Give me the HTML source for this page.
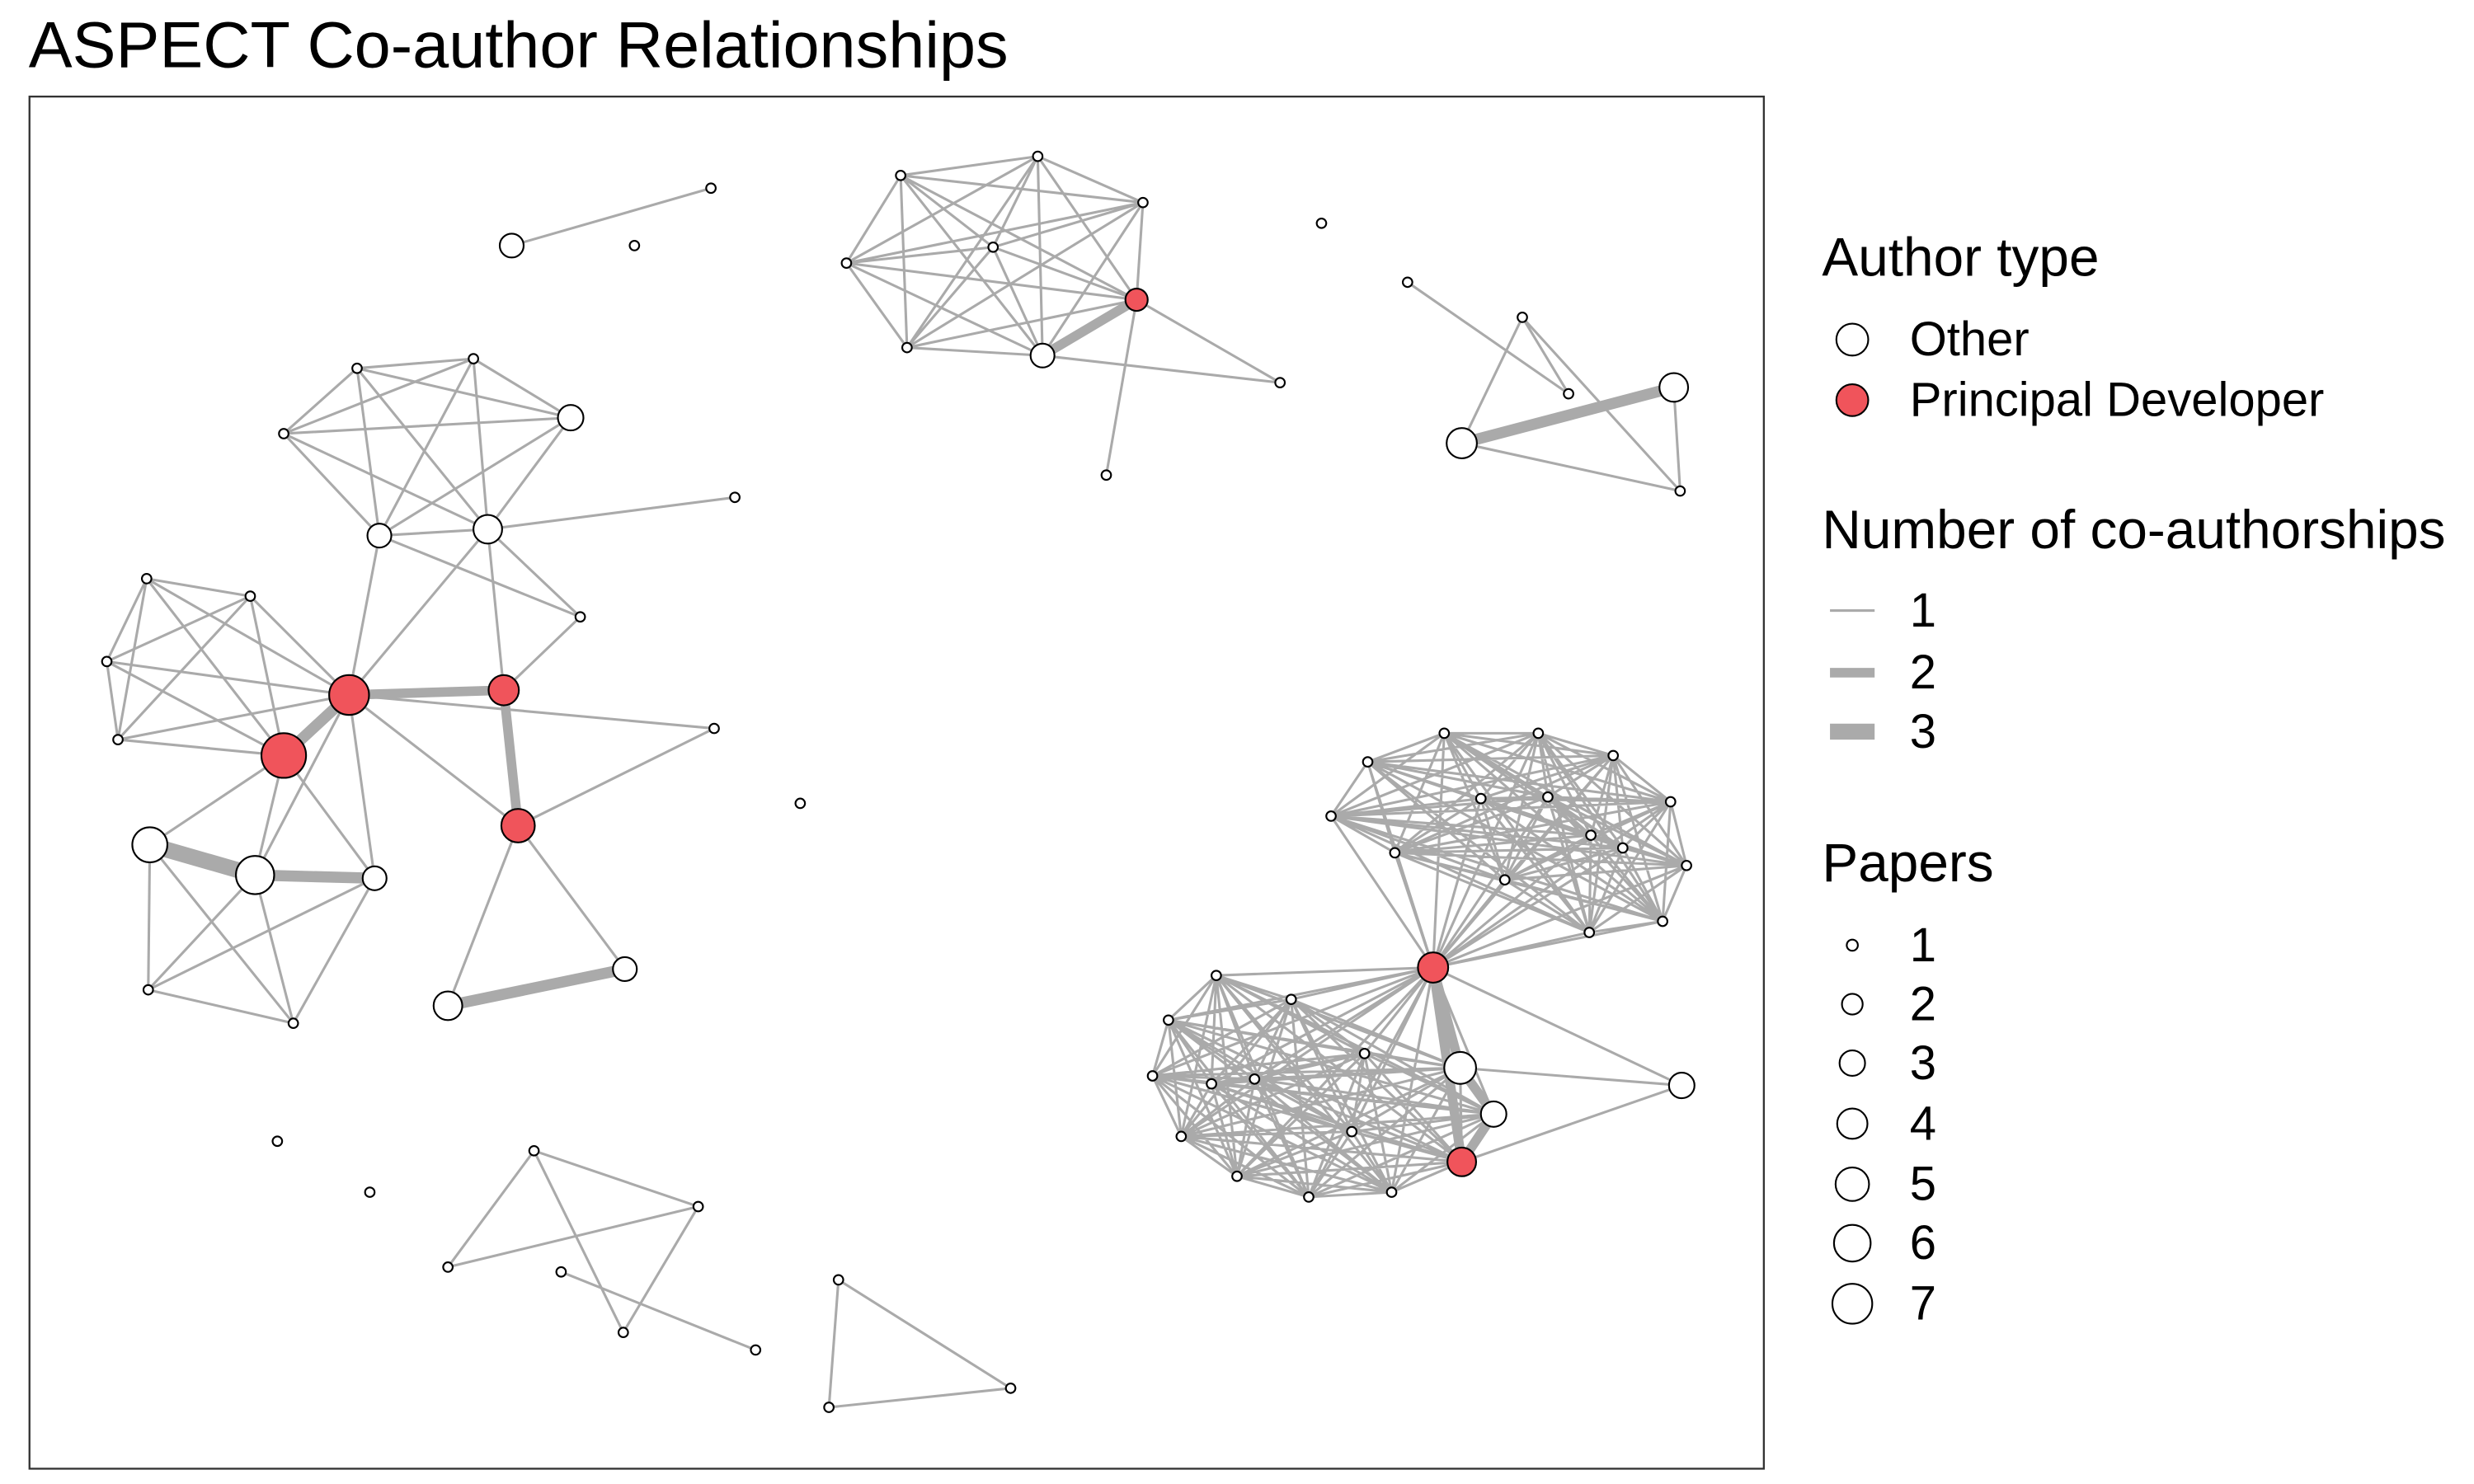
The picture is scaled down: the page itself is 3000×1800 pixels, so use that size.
<!DOCTYPE html>
<html><head><meta charset="utf-8"><style>
html,body{margin:0;padding:0;background:#fff;}
svg{display:block;}
text{font-family:"Liberation Sans",Arial,sans-serif;fill:#000;}
</style></head><body>
<svg width="3000" height="1800" viewBox="0 0 1552 931" xmlns="http://www.w3.org/2000/svg">
<rect width="1552" height="931" fill="#fff"/>
<text x="18" y="42" font-size="41">ASPECT Co-author Relationships</text>
<rect x="18.5" y="60.5" width="1088" height="861" fill="none" stroke="#333" stroke-width="1.2"/>

<g stroke="#aaa" stroke-width="1.6" fill="none" stroke-linejoin="round">
<path d="M565 110L651 98M565 110L717 127M565 110L531 165M565 110L623 155M565 110L713 188M565 110L569 218M565 110L654 223
M651 98L717 127M651 98L531 165M651 98L623 155M651 98L713 188M651 98L569 218M651 98L654 223
M717 127L531 165M717 127L623 155M717 127L713 188M717 127L569 218M717 127L654 223
M531 165L623 155M531 165L713 188M531 165L569 218M531 165L654 223
M623 155L713 188M623 155L569 218M623 155L654 223
M713 188L569 218M569 218L654 223
M713 188L803 240M654 223L803 240M713 188L694 298
M321 154L446 118"/>
<path d="M654 223L713 188" stroke-width="6"/>
<path d="M883 177L984 247M955 199L917 278M955 199L1054 308M955 199L984 247M917 278L1054 308M1050 243L1054 308"/>
<path d="M917 278L1050 243" stroke-width="7"/>
<path d="M224 231L297 225M224 231L178 272M224 231L358 262M224 231L238 336M224 231L306 332
M297 225L178 272M297 225L358 262M297 225L238 336M297 225L306 332
M178 272L358 262M178 272L238 336M178 272L306 332M358 262L238 336M358 262L306 332M238 336L306 332
M306 332L461 312M238 336L219 436M306 332L219 436M238 336L364 387M306 332L364 387M364 387L316 433M306 332L316 433
M219 436L325 518M325 518L448 457M219 436L448 457M325 518L281 631M325 518L392 608
M92 363L157 374M92 363L67 415M92 363L74 464M157 374L67 415M157 374L74 464M67 415L74 464
M92 363L178 474M157 374L178 474M67 415L178 474M74 464L178 474
M92 363L219 436M157 374L219 436M67 415L219 436M74 464L219 436
M178 474L94 530M178 474L160 549M178 474L235 551M219 436L235 551M219 436L160 549
M94 530L93 621M94 530L184 642M235 551L93 621M235 551L184 642M93 621L184 642M160 549L93 621M160 549L184 642"/>
<path d="M219 436L316 433M316 433L325 518" stroke-width="6"/>
<path d="M178 474L219 436M281 631L392 608" stroke-width="7"/>
<path d="M94 530L160 549" stroke-width="10"/>
<path d="M160 549L235 551" stroke-width="7"/>
<path d="M335 722L281 795M335 722L391 836M335 722L438 757M438 757L281 795M438 757L391 836M352 798L474 847
M526 803L520 883L634 871Z"/>
<path d="M835 512L858 478L906 460L965 460L1012 474L1048 503L1058 543L1043 578L997 585L944 552L875 535L929 501L971 500L998 524L1018 532Z
M835 512L906 460L1012 474L1058 543L997 585L875 535L971 500L1018 532L858 478L965 460L1048 503L1043 578L944 552L929 501L998 524Z
M835 512L1012 474L997 585L971 500L858 478L1048 503L944 552L998 524L906 460L1058 543L875 535L1018 532L965 460L1043 578L929 501Z
M835 512L1043 578L1018 532L1058 543L998 524L1048 503L971 500L1012 474L929 501L965 460L875 535L906 460L944 552L858 478L997 585Z
M835 512L965 460L1058 543L944 552L971 500Z M858 478L1012 474L1043 578L875 535L998 524Z M906 460L1048 503L997 585L929 501L1018 532Z
M835 512L1048 503L875 535Z M858 478L1058 543L929 501Z M906 460L1043 578L971 500Z M965 460L997 585L998 524Z M1012 474L944 552L1018 532Z
M835 512L1058 543L971 500L965 460L944 552Z M858 478L1043 578L998 524L1012 474L875 535Z M906 460L997 585L1018 532L1048 503L929 501Z
M899 607L835 512M899 607L858 478M899 607L906 460M899 607L965 460M899 607L1012 474M899 607L1048 503M899 607L1058 543M899 607L1043 578
M899 607L997 585M899 607L944 552M899 607L875 535M899 607L929 501M899 607L971 500M899 607L998 524M899 607L1018 532"/>
<path d="M763 612L810 627L856 661L916 670L937 699L917 729L873 748L821 751L776 738L741 713L723 675L733 640L787 677L760 680L848 710Z
M763 612L856 661L937 699L873 748L776 738L723 675L787 677L848 710L810 627L916 670L917 729L821 751L741 713L733 640L760 680Z
M763 612L937 699L776 738L787 677L810 627L917 729L741 713L760 680L856 661L873 748L723 675L848 710L916 670L821 751L733 640Z
M763 612L821 751L848 710L873 748L760 680L917 729L787 677L937 699L733 640L916 670L723 675L856 661L741 713L810 627L776 738Z
M763 612L916 670L873 748L741 713L787 677Z M810 627L937 699L821 751L723 675L760 680Z M856 661L917 729L776 738L733 640L848 710Z
M763 612L917 729L723 675Z M810 627L873 748L733 640Z M856 661L821 751L787 677Z M916 670L776 738L760 680Z M937 699L741 713L848 710Z
M763 612L873 748L787 677L916 670L741 713Z M810 627L821 751L760 680L937 699L723 675Z M856 661L776 738L848 710L917 729L733 640Z
M899 607L763 612M899 607L810 627M899 607L856 661M899 607L873 748M899 607L821 751M899 607L776 738M899 607L741 713M899 607L723 675
M899 607L733 640M899 607L787 677M899 607L760 680M899 607L848 710M899 607L937 699
M1055 681L899 607M1055 681L916 670M1055 681L917 729"/>
<path d="M899 607L916 670L937 699L917 729M899 607L917 729" stroke-width="6"/>
</g>

<g stroke="#000" stroke-width="1.1" fill="#fff">
<circle cx="565" cy="110" r="3"/><circle cx="651" cy="98" r="3"/><circle cx="717" cy="127" r="3"/><circle cx="531" cy="165" r="3"/>
<circle cx="623" cy="155" r="3"/><circle cx="569" cy="218" r="3"/><circle cx="654" cy="223" r="7.5"/><circle cx="803" cy="240" r="3"/><circle cx="694" cy="298" r="3"/>
<circle cx="321" cy="154" r="7.5"/><circle cx="446" cy="118" r="3"/><circle cx="398" cy="154" r="3"/><circle cx="829" cy="140" r="3"/>
<circle cx="174" cy="716" r="3"/><circle cx="232" cy="748" r="3"/><circle cx="502" cy="504" r="3"/>
<circle cx="883" cy="177" r="3"/><circle cx="955" cy="199" r="3"/><circle cx="984" cy="247" r="3"/><circle cx="1050" cy="243" r="9"/><circle cx="917" cy="278" r="9.5"/><circle cx="1054" cy="308" r="3"/>
<circle cx="224" cy="231" r="3"/><circle cx="297" cy="225" r="3"/><circle cx="178" cy="272" r="3"/><circle cx="358" cy="262" r="8"/>
<circle cx="238" cy="336" r="7.5"/><circle cx="306" cy="332" r="9"/><circle cx="461" cy="312" r="3"/><circle cx="364" cy="387" r="3"/><circle cx="448" cy="457" r="3"/>
<circle cx="92" cy="363" r="3"/><circle cx="157" cy="374" r="3"/><circle cx="67" cy="415" r="3"/><circle cx="74" cy="464" r="3"/>
<circle cx="94" cy="530" r="11"/><circle cx="160" cy="549" r="12"/><circle cx="235" cy="551" r="7.5"/><circle cx="93" cy="621" r="3"/><circle cx="184" cy="642" r="3"/>
<circle cx="281" cy="631" r="9"/><circle cx="392" cy="608" r="7.5"/>
<circle cx="335" cy="722" r="3"/><circle cx="438" cy="757" r="3"/><circle cx="281" cy="795" r="3"/><circle cx="391" cy="836" r="3"/><circle cx="352" cy="798" r="3"/><circle cx="474" cy="847" r="3"/>
<circle cx="526" cy="803" r="3"/><circle cx="520" cy="883" r="3"/><circle cx="634" cy="871" r="3"/>
<circle cx="835" cy="512" r="3"/><circle cx="858" cy="478" r="3"/><circle cx="906" cy="460" r="3"/><circle cx="965" cy="460" r="3"/><circle cx="1012" cy="474" r="3"/>
<circle cx="1048" cy="503" r="3"/><circle cx="1058" cy="543" r="3"/><circle cx="1043" cy="578" r="3"/><circle cx="997" cy="585" r="3"/><circle cx="944" cy="552" r="3"/>
<circle cx="875" cy="535" r="3"/><circle cx="929" cy="501" r="3"/><circle cx="971" cy="500" r="3"/><circle cx="998" cy="524" r="3"/><circle cx="1018" cy="532" r="3"/>
<circle cx="763" cy="612" r="3"/><circle cx="810" cy="627" r="3"/><circle cx="856" cy="661" r="3"/><circle cx="873" cy="748" r="3"/><circle cx="821" cy="751" r="3"/>
<circle cx="776" cy="738" r="3"/><circle cx="741" cy="713" r="3"/><circle cx="723" cy="675" r="3"/><circle cx="733" cy="640" r="3"/><circle cx="787" cy="677" r="3"/>
<circle cx="760" cy="680" r="3"/><circle cx="848" cy="710" r="3"/>
<circle cx="916" cy="670" r="10"/><circle cx="937" cy="699" r="8"/><circle cx="1055" cy="681" r="8"/>
</g>
<g stroke="#000" stroke-width="1.1" fill="#f0545b">
<circle cx="713" cy="188" r="7"/><circle cx="219" cy="436" r="12.5"/><circle cx="316" cy="433" r="9.5"/><circle cx="325" cy="518" r="10.5"/>
<circle cx="178" cy="474" r="14"/><circle cx="899" cy="607" r="9.5"/><circle cx="917" cy="729" r="9"/>
</g>

<text x="1143" y="173" font-size="34">Author type</text>
<circle cx="1162" cy="213" r="10" fill="#fff" stroke="#000" stroke-width="1.1"/>
<text x="1198" y="223" font-size="30">Other</text>
<circle cx="1162" cy="251" r="10" fill="#f0545b" stroke="#000" stroke-width="1.1"/>
<text x="1198" y="261" font-size="30">Principal Developer</text>
<text x="1143" y="344" font-size="34">Number of co-authorships</text>
<line x1="1148" y1="383" x2="1176" y2="383" stroke="#aaa" stroke-width="1.6"/>
<text x="1198" y="393" font-size="30">1</text>
<line x1="1148" y1="422" x2="1176" y2="422" stroke="#aaa" stroke-width="6"/>
<text x="1198" y="432" font-size="30">2</text>
<line x1="1148" y1="459" x2="1176" y2="459" stroke="#aaa" stroke-width="10"/>
<text x="1198" y="469" font-size="30">3</text>
<text x="1143" y="553" font-size="34">Papers</text>
<g stroke="#000" stroke-width="1.1" fill="#fff">
<circle cx="1162" cy="593" r="3.5"/><circle cx="1162" cy="630" r="6.5"/><circle cx="1162" cy="667" r="8"/>
<circle cx="1162" cy="705" r="9.5"/><circle cx="1162" cy="743" r="10.5"/><circle cx="1162" cy="780" r="11.5"/><circle cx="1162" cy="818" r="12.5"/>
</g>
<g font-size="30"><text x="1198" y="603">1</text><text x="1198" y="640">2</text><text x="1198" y="677">3</text><text x="1198" y="715">4</text><text x="1198" y="753">5</text><text x="1198" y="790">6</text><text x="1198" y="828">7</text></g>
</svg>
</body></html>
